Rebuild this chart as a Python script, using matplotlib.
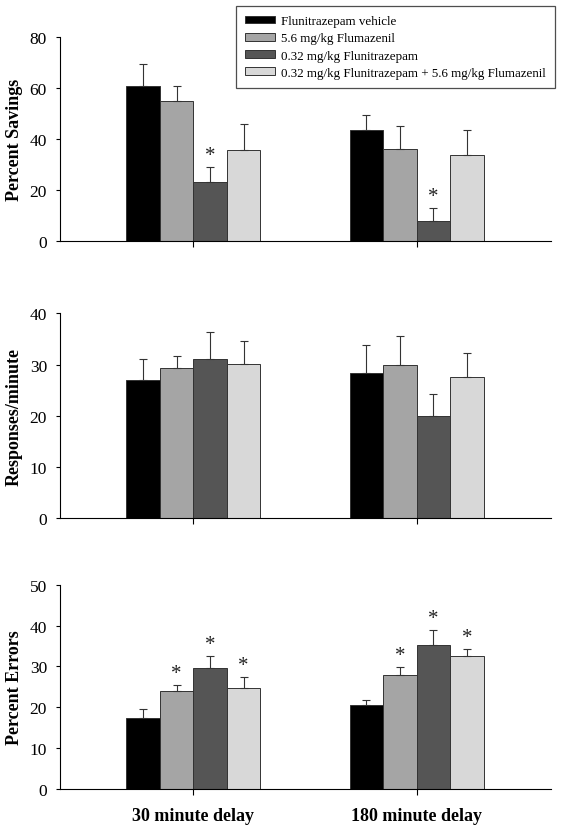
import matplotlib
matplotlib.use("Agg")
import matplotlib.pyplot as plt
from matplotlib.patches import Patch
import numpy as np

plt.rcParams['font.family'] = ['Liberation Serif', 'DejaVu Serif']

groups = ["30 minute delay", "180 minute delay"]
series = ["Flunitrazepam vehicle", "5.6 mg/kg Flumazenil", "0.32 mg/kg Flunitrazepam",
          "0.32 mg/kg Flunitrazepam + 5.6 mg/kg Flumazenil"]
colors = ["#000000", "#a5a5a5", "#555555", "#d8d8d8"]

# Percent Savings: means and upper error tops per series [group1, group2]
savings_mean = [[60.8, 43.4], [54.9, 36.1], [23.1, 7.8], [35.9, 33.7]]
savings_top = [[69.3, 49.4], [60.8, 45.0], [28.9, 13.1], [46.1, 43.5]]
savings_star = [[False, False], [False, False], [True, True], [False, False]]

# Responses/minute
resp_mean = [[27.0, 28.4], [29.3, 30.0], [31.0, 19.9], [30.2, 27.5]]
resp_top = [[31.1, 33.8], [31.7, 35.6], [36.4, 24.2], [34.5, 32.2]]
resp_star = [[False, False]] * 4

# Percent Errors
err_mean = [[17.4, 20.6], [24.1, 27.8], [29.7, 35.2], [24.7, 32.5]]
err_top = [[19.5, 21.9], [25.4, 29.8], [32.5, 38.9], [27.3, 34.2]]
err_star = [[False, False], [True, True], [True, True], [True, True]]

panels = [
    ("Percent Savings", savings_mean, savings_top, savings_star, 80, [0, 20, 40, 60, 80]),
    ("Responses/minute", resp_mean, resp_top, resp_star, 40, [0, 10, 20, 30, 40]),
    ("Percent Errors", err_mean, err_top, err_star, 50, [0, 10, 20, 30, 40, 50]),
]

fig = plt.figure(figsize=(5.67, 8.28), dpi=100)
L, W = 59.5 / 567, 491 / 567
rects = [
    [L, 0.7077, W, 0.2463],
    [L, 0.3728, W, 0.2476],
    [L, 0.0459, W, 0.2467],
]

x = np.arange(len(groups))
w = 0.15
for (ylabel, means, tops, stars, ymax, yt), rect in zip(panels, rects):
    ax = fig.add_axes(rect)
    for i in range(4):
        pos = x + (i - 1.5) * w
        m = np.array(means[i])
        t = np.array(tops[i])
        ax.bar(pos, m, width=w, color=colors[i], edgecolor="#333333", linewidth=0.7, zorder=2)
        ax.errorbar(pos, m, yerr=[np.zeros_like(m), t - m], fmt="none", ecolor="#333333",
                    elinewidth=0.8, capsize=3, capthick=0.8, zorder=3)
        for j in range(len(groups)):
            if stars[i][j]:
                ax.text(pos[j], t[j] + ymax * 0.01, "*", ha="center", va="bottom",
                        fontsize=15, color="#222222")
    ax.set_xlim(-0.6, 1.6)
    ax.set_ylim(0, ymax)
    ax.set_yticks(yt)
    ax.tick_params(axis="y", labelsize=12.5, length=3, direction="out", width=0.8, pad=6)
    ax.set_xticks(x)
    ax.tick_params(axis="x", length=4, direction="out", width=0.8)
    ax.spines["top"].set_visible(False)
    ax.spines["right"].set_visible(False)
    ax.spines["left"].set_linewidth(0.8)
    ax.spines["bottom"].set_linewidth(0.8)
    ax.set_ylabel(ylabel, fontsize=13, fontweight="bold", labelpad=5)
    if ylabel == "Percent Errors":
        ax.set_xticklabels(groups, fontsize=13, fontweight="bold")
        ax.tick_params(axis="x", pad=9)
    else:
        ax.set_xticklabels([])
    if ylabel == "Percent Savings":
        handles = [Patch(facecolor=c, edgecolor="#333333", linewidth=0.7) for c in colors]
        leg = fig.legend(handles, series, loc="upper left",
                         bbox_to_anchor=(235.7 / 567, 1 - 7 / 828),
                         fontsize=9.4, frameon=True, fancybox=False, edgecolor="#222222",
                         handlelength=2.3, handleheight=0.55, labelspacing=0.4,
                         handletextpad=0.5, borderpad=0.7, borderaxespad=0)
        leg.get_frame().set_linewidth(0.9)

fig.savefig("out.png", dpi=100)
